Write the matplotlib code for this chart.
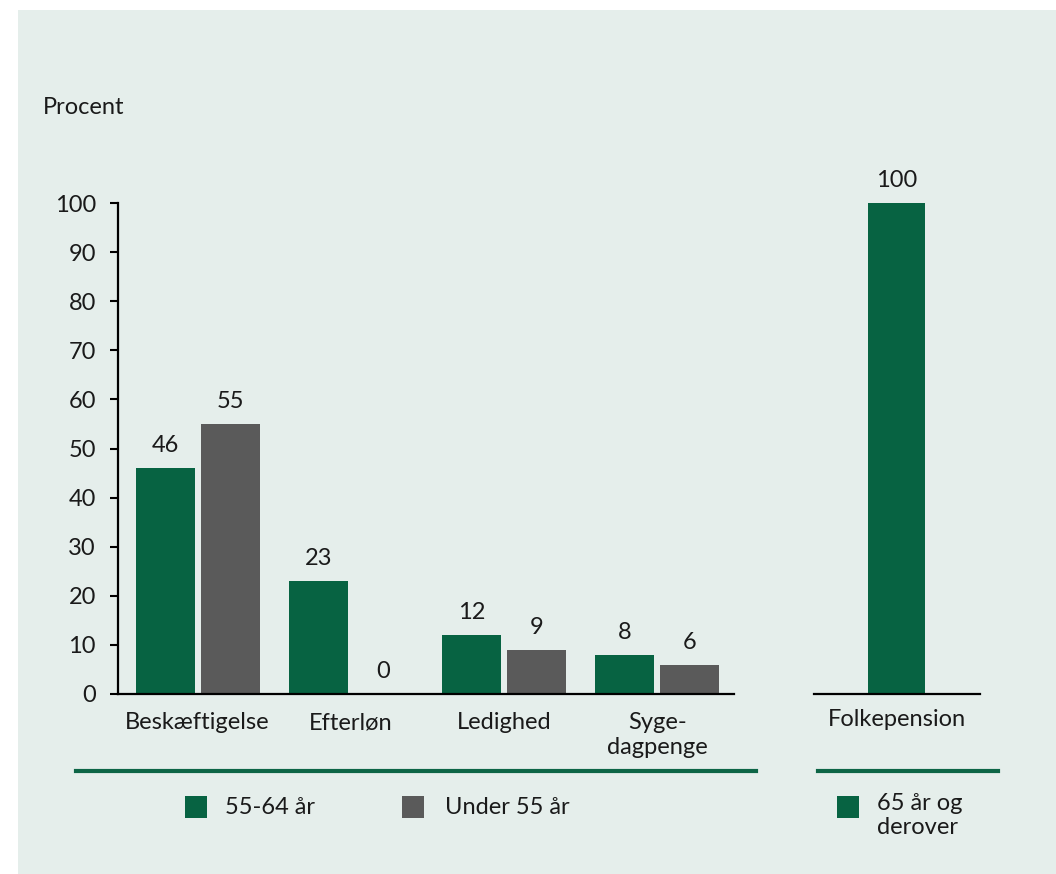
import matplotlib
matplotlib.use("Agg")
import matplotlib.pyplot as plt
from matplotlib.patches import Rectangle
from matplotlib.lines import Line2D
import numpy as np

plt.rcParams['font.family'] = ['Lato', 'DejaVu Sans']

categories = ["Beskæftigelse", "Efterløn", "Ledighed", "Syge-\ndagpenge"]
series_5564 = [46, 23, 12, 8]
series_under55 = [55, 0, 9, 6]
right_category = ["Folkepension"]
right_values = [100]
yticks = [0, 10, 20, 30, 40, 50, 60, 70, 80, 90, 100]
legend_left = ["55-64 år", "Under 55 år"]
legend_right = ["65 år og\nderover"]

GREEN = "#076342"
GRAY = "#5a5a5a"
BG = "#e5eeeb"
TXT = "#1a1a1a"
FS = 17

W, H = 1056, 874
fig = plt.figure(figsize=(W / 100, H / 100), dpi=100, facecolor="white")

def fx(px):
    return px / W

def fy(py):
    return 1 - py / H

# panel background
fig.patches.append(Rectangle((fx(18), 0), 1 - fx(18), fy(10), transform=fig.transFigure,
                             facecolor=BG, edgecolor="none", zorder=-5))

# left axes
axL = fig.add_axes([fx(118), fy(694), fx(734) - fx(118), fy(203) - fy(694)])
axL.set_facecolor("none")
x = np.arange(len(categories))
bw = 0.385
off = 0.2124
b1 = axL.bar(x - off, series_5564, bw, color=GREEN, zorder=2)
b2 = axL.bar(x + off, series_under55, bw, color=GRAY, zorder=2)
for bars, vals in ((b1, series_5564), (b2, series_under55)):
    for b, v in zip(bars, vals):
        axL.annotate(f"{v}", (b.get_x() + b.get_width() / 2, v), xytext=(0, 8.5),
                     textcoords="offset points", ha="center", va="bottom",
                     fontsize=FS, color=TXT)
axL.set_xlim(-0.52, 3.50)
axL.set_ylim(0, 100)
axL.set_yticks(yticks)
axL.set_yticklabels([str(t) for t in yticks], fontsize=FS, color=TXT)
axL.set_xticks(x)
axL.set_xticklabels(categories, fontsize=FS, color=TXT, linespacing=1.25, va="top")
axL.tick_params(axis="x", length=0, pad=13)
axL.tick_params(axis="y", length=6, width=1.5, pad=10, color="black")
for s in ("top", "right"):
    axL.spines[s].set_visible(False)
axL.spines["left"].set_linewidth(1.6)
axL.spines["bottom"].set_linewidth(1.6)

# right axes
axR = fig.add_axes([fx(814), fy(694), fx(980) - fx(814), fy(203) - fy(694)])
axR.set_facecolor("none")
rb = axR.bar([0], right_values, 0.5, color=GREEN, zorder=2)
for b, v in zip(rb, right_values):
    axR.annotate(f"{v}", (b.get_x() + b.get_width() / 2, v), xytext=(0, 8.5),
                 textcoords="offset points", ha="center", va="bottom",
                 fontsize=FS, color=TXT)
axR.set_xlim(-0.724, 0.732)
axR.set_ylim(0, 100)
axR.set_yticks([])
axR.set_xticks([0])
axR.set_xticklabels(right_category, fontsize=FS, color=TXT)
axR.tick_params(axis="x", length=0, pad=11)
for s in ("top", "right", "left"):
    axR.spines[s].set_visible(False)
axR.spines["bottom"].set_linewidth(1.6)

# Procent label
fig.text(fx(43), fy(108), "Procent", fontsize=FS, color=TXT, ha="left", va="center")

# separator lines
fig.lines.append(Line2D([fx(76), fx(756)], [fy(771), fy(771)], transform=fig.transFigure,
                        color="#0d6546", lw=3))
fig.lines.append(Line2D([fx(818), fx(998)], [fy(771), fy(771)], transform=fig.transFigure,
                        color="#0d6546", lw=3))

# legends
def legend_item(x0, color, label):
    fig.patches.append(Rectangle((fx(x0), fy(818)), fx(22), fy(796) - fy(818),
                                 transform=fig.transFigure, facecolor=color, edgecolor="none"))

legend_item(185, GREEN, legend_left[0])
fig.text(fx(225), fy(807), legend_left[0], fontsize=FS, color=TXT, ha="left", va="center")
legend_item(402, GRAY, legend_left[1])
fig.text(fx(445), fy(807), legend_left[1], fontsize=FS, color=TXT, ha="left", va="center")
legend_item(837, GREEN, legend_right[0])
fig.text(fx(877), fy(793), legend_right[0], fontsize=FS, color=TXT, ha="left", va="top",
         linespacing=1.2)

fig.savefig("out.png", dpi=100, facecolor="white")
